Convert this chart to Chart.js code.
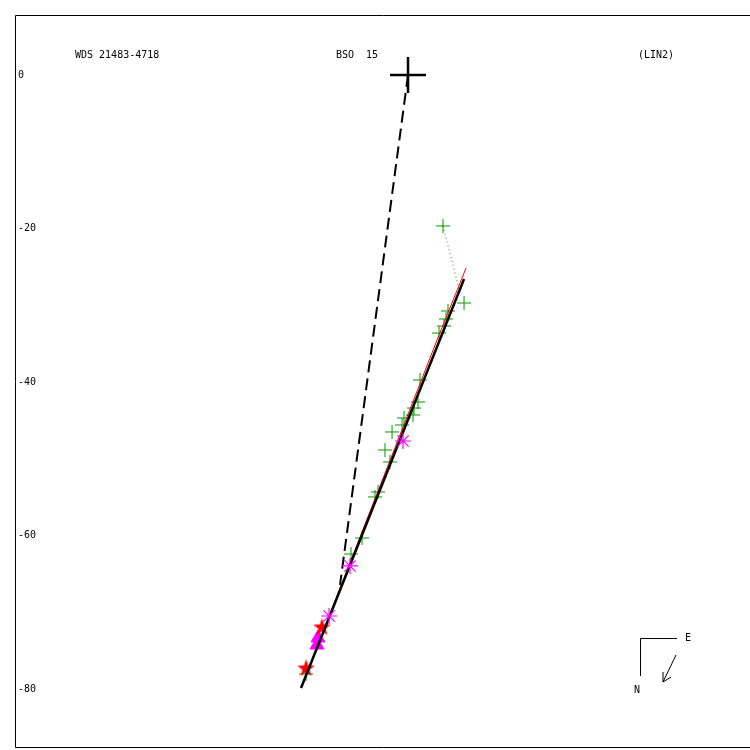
<!DOCTYPE html>
<html>
<head>
<meta charset="utf-8">
<script src="https://cdn.jsdelivr.net/npm/chart.js@4/dist/chart.umd.min.js"></script>
<style>
  body { margin: 0; background: #fff; }
  canvas { display: block; }
</style>
</head>
<body>
<canvas id="orbit" width="750" height="750"></canvas>
<script>
// labels
const starName = "WDS 21483-4718";
const discoverer = "BSO  15";
const orbitRef = "(LIN2)";
const yTicks = [0, -20, -40, -60, -80];

// data (plot units)
const primary = [[0, 0]];
const nodeLine = [[0, 0], [-8.86, -66.45]];
const orbitBlack = [[-13.94, -79.87], [7.30, -26.58]];
const orbitRed = [[-13.94, -79.87], [3.78, -34.53], [7.56, -25.15]];
const visual = [
  [4.56, -19.67], [7.30, -29.71], [5.21, -30.75], [4.95, -31.79], [4.69, -32.70],
  [4.04, -33.62], [1.56, -39.74], [1.30, -42.61], [0.78, -43.39], [0.65, -44.30],
  [-0.52, -44.69], [-0.78, -45.60], [-2.08, -46.51], [-3.00, -48.86], [-2.35, -50.42],
  [-3.91, -54.33], [-4.30, -54.98], [-5.99, -60.33], [-7.43, -62.41], [-13.29, -78.05]
];
const ocLine = [[4.56, -19.67], [6.78, -28.40]];
const speckle = [[-0.65, -47.69], [-7.56, -63.97], [-10.29, -70.49]];
const hipparcos = [[-11.21, -71.92], [-13.29, -77.26]];
const photo = [[-11.73, -73.36], [-11.86, -74.27]];

// colors
const green = "#009a00";
const magenta = "#ff00ff";
const red = "#ff0000";
const black = "#000000";
const font = "DejaVu Sans Mono";

const pts = (arr) => arr.map(([x, y]) => ({ x, y }));

// filled 5 point star for the red marks
const starImg = document.createElement("canvas");
starImg.width = 19;
starImg.height = 19;
(function () {
  const c = starImg.getContext("2d");
  c.fillStyle = red;
  c.beginPath();
  for (let i = 0; i < 10; i++) {
    const r = i % 2 ? 3.8 : 9.2;
    const a = -Math.PI / 2 + (i * Math.PI) / 5;
    const px = 9.5 + r * Math.cos(a);
    const py = 10 + r * Math.sin(a);
    if (i) c.lineTo(px, py); else c.moveTo(px, py);
  }
  c.closePath();
  c.fill();
})();

const decor = {
  id: "decor",
  afterDraw(chart) {
    const ctx = chart.ctx;
    const a = chart.chartArea;
    ctx.save();
    ctx.strokeStyle = black;
    ctx.lineWidth = 1;
    ctx.beginPath();
    ctx.moveTo(760, a.top + 0.5);
    ctx.lineTo(a.left + 0.5, a.top + 0.5);
    ctx.lineTo(a.left + 0.5, a.bottom - 0.5);
    ctx.lineTo(760, a.bottom - 0.5);
    ctx.stroke();

    ctx.fillStyle = black;
    ctx.font = "10px '" + font + "'";
    ctx.textBaseline = "middle";
    ctx.textAlign = "left";
    ctx.fillText(starName, 75, 55);
    ctx.fillText(discoverer, 336, 55);
    ctx.fillText(orbitRef, 638, 55);

    // compass
    ctx.beginPath();
    ctx.moveTo(677, 638.5);
    ctx.lineTo(640.5, 638.5);
    ctx.lineTo(640.5, 676);
    ctx.moveTo(676, 655);
    ctx.lineTo(663, 682);
    ctx.moveTo(663, 682);
    ctx.lineTo(663, 672);
    ctx.moveTo(663, 682);
    ctx.lineTo(671, 677);
    ctx.stroke();
    ctx.fillText("E", 685, 638);
    ctx.fillText("N", 634, 690);
    ctx.restore();
  }
};

new Chart(document.getElementById("orbit"), {
  type: "scatter",
  data: {
    datasets: [
      {
        data: pts(speckle),
        pointStyle: "star",
        pointRadius: 8,
        borderColor: magenta,
        backgroundColor: magenta,
        borderWidth: 1.2,
      },
      {
        data: pts(orbitBlack),
        showLine: true,
        borderColor: black,
        borderWidth: 2.5,
        pointRadius: 0,
      },
      {
        data: pts(orbitRed),
        showLine: true,
        borderColor: red,
        borderWidth: 1,
        pointRadius: 0,
      },
      {
        data: pts(nodeLine),
        showLine: true,
        borderColor: black,
        borderWidth: 2,
        borderDash: [12, 6],
        pointRadius: 0,
      },
      {
        data: pts(ocLine),
        showLine: true,
        borderColor: green,
        borderWidth: 1,
        borderDash: [1, 3],
        pointRadius: 0,
      },
      {
        data: pts(hipparcos),
        pointStyle: starImg,
      },
      {
        data: pts(photo),
        pointStyle: "triangle",
        pointRadius: 8,
        backgroundColor: magenta,
        borderColor: magenta,
        borderWidth: 1,
      },
      {
        data: pts(visual),
        pointStyle: "cross",
        pointRadius: 7,
        borderColor: green,
        borderWidth: 1,
      },
      {
        data: pts(primary),
        pointStyle: "cross",
        pointRadius: 18,
        borderColor: black,
        borderWidth: 2.5,
      },
    ],
  },
  options: {
    responsive: false,
    animation: false,
    layout: {
      autoPadding: false,
      padding: { left: 15, top: 15, right: 0, bottom: 2 },
    },
    scales: {
      x: {
        display: false,
        min: -51.21,
        max: 44.56,
      },
      y: {
        min: -87.69,
        max: 7.82,
        grid: { display: false },
        border: { display: false },
        afterFit: (scale) => {
          scale.width = 0;
          scale.paddingTop = 0;
          scale.paddingBottom = 0;
        },
        afterBuildTicks: (scale) => {
          scale.ticks = yTicks.map((v) => ({ value: v }));
        },
        ticks: {
          mirror: true,
          padding: 3,
          color: black,
          font: { family: font, size: 10 },
        },
      },
    },
    plugins: {
      legend: { display: false },
      tooltip: { enabled: false },
    },
  },
  plugins: [decor],
});
</script>
</body>
</html>
